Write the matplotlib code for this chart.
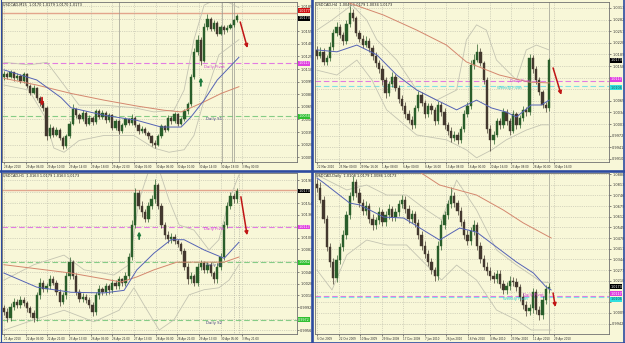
import numpy as np
import matplotlib
matplotlib.use("Agg")
import matplotlib.pyplot as plt
from matplotlib.lines import Line2D

# ---------------- data ----------------
# USDCAD M15 (top left)
tl_open0 = 1.0100
tl_close = [1.0104, 1.0101, 1.0106, 1.0099, 1.0102, 1.0096, 1.0104, 1.0090, 1.0082, 1.0088,
            1.0076, 1.0070, 1.0064, 1.0030, 1.0040, 1.0032, 1.0038, 1.0028, 1.0018, 1.0030,
            1.0045, 1.0062, 1.0055, 1.0050, 1.0058, 1.0045, 1.0052, 1.0047, 1.0060, 1.0053,
            1.0058, 1.0049, 1.0055, 1.0040, 1.0048, 1.0036, 1.0043, 1.0050, 1.0046, 1.0052,
            1.0044, 1.0036, 1.0039, 1.0034, 1.0030, 1.0022, 1.0020, 1.0030, 1.0042, 1.0038,
            1.0052, 1.0048, 1.0056, 1.0045, 1.0050, 1.0060, 1.0068, 1.0100, 1.0130, 1.0145,
            1.0120, 1.0160, 1.0170, 1.0158, 1.0165, 1.0152, 1.0160, 1.0156, 1.0159, 1.0162,
            1.0168, 1.0173]
tl_high = [1.0108, 1.0106, 1.0109, 1.0107, 1.0105, 1.0104, 1.0107, 1.0105, 1.0092, 1.0091,
           1.0089, 1.0078, 1.0072, 1.0066, 1.0045, 1.0042, 1.0041, 1.0040, 1.0030, 1.0033,
           1.0048, 1.0068, 1.0064, 1.0058, 1.0061, 1.0060, 1.0055, 1.0054, 1.0063, 1.0062,
           1.0061, 1.0060, 1.0058, 1.0057, 1.0051, 1.0049, 1.0046, 1.0053, 1.0052, 1.0056,
           1.0054, 1.0046, 1.0042, 1.0041, 1.0036, 1.0032, 1.0025, 1.0033, 1.0045, 1.0044,
           1.0055, 1.0054, 1.0059, 1.0058, 1.0053, 1.0063, 1.0071, 1.0104, 1.0135, 1.0150,
           1.0148, 1.0165, 1.0176, 1.0172, 1.0168, 1.0167, 1.0163, 1.0162, 1.0162, 1.0165,
           1.0170, 1.0176]
tl_low = [1.0097, 1.0098, 1.0099, 1.0096, 1.0097, 1.0093, 1.0094, 1.0087, 1.0079, 1.0080,
          1.0073, 1.0066, 1.0060, 1.0026, 1.0028, 1.0029, 1.0030, 1.0025, 1.0015, 1.0016,
          1.0028, 1.0043, 1.0052, 1.0046, 1.0048, 1.0042, 1.0043, 1.0044, 1.0045, 1.0050,
          1.0051, 1.0046, 1.0047, 1.0037, 1.0038, 1.0033, 1.0034, 1.0041, 1.0043, 1.0044,
          1.0041, 1.0033, 1.0034, 1.0031, 1.0027, 1.0019, 1.0016, 1.0018, 1.0028, 1.0035,
          1.0036, 1.0045, 1.0046, 1.0042, 1.0043, 1.0048, 1.0057, 1.0066, 1.0098, 1.0127,
          1.0115, 1.0118, 1.0157, 1.0155, 1.0155, 1.0149, 1.0150, 1.0152, 1.0154, 1.0158,
          1.0160, 1.0166]
tl_blue_x = [0, 10, 17.4, 20.4, 30.5, 40.5, 47.9, 54, 57, 61, 65, 71.6]
tl_blue_y = [1.0109, 1.0097, 1.0076, 1.0064, 1.0055, 1.0049, 1.0041, 1.0041, 1.0053, 1.0073, 1.0097, 1.0124]
tl_brown_x = [0, 10, 20.4, 30.5, 40.5, 48.8, 54, 57, 61, 66.2, 71.6]
tl_brown_y = [1.0099, 1.0091, 1.0081, 1.0073, 1.0066, 1.0061, 1.0059, 1.0064, 1.0071, 1.0081, 1.0089]
tl_bbu_x = [0, 7.6, 13.1, 18.3, 22.9, 30.5, 39.6, 45.7, 51.8, 54.9, 57.9, 61, 64, 68.6, 71.6]
tl_bbu_y = [1.0118, 1.0115, 1.0118, 1.0091, 1.0067, 1.0067, 1.0064, 1.0059, 1.0061, 1.0085,
            1.0145, 1.0186, 1.0192, 1.0189, 1.0183]
tl_bbl_x = [0, 7.6, 12.2, 15.2, 18.3, 22.9, 30.5, 39.6, 45.7, 50.3, 54.9, 57.9, 61, 65.5, 71.6]
tl_bbl_y = [1.0091, 1.0085, 1.0055, 1.0016, 1.0011, 1.0025, 1.0031, 1.0031, 1.0016, 1.0011,
            1.0014, 1.0031, 1.0073, 1.0127, 1.0145]
tl_ticks = [1.0185, 1.0170, 1.0155, 1.0140, 1.0125, 1.0110, 1.0095, 1.0080, 1.0065, 1.0050,
            1.0035, 1.0020, 1.0005]
tl_dates = ["28 Apr 2010", "29 Apr 06:00", "29 Apr 10:00", "29 Apr 14:00", "29 Apr 18:00",
            "29 Apr 22:00", "30 Apr 02:00", "30 Apr 06:00", "30 Apr 10:00", "30 Apr 14:00",
            "30 Apr 18:00", "3 May 00:00"]

# USDCAD H4 (top right)
tr_open0 = 1.0200
tr_close = [1.0185, 1.0195, 1.0170, 1.0180, 1.0210, 1.0245, 1.0262, 1.0240, 1.0225, 1.0270,
            1.0300, 1.0285, 1.0245, 1.0230, 1.0215, 1.0225, 1.0205, 1.0185, 1.0165, 1.0150,
            1.0120, 1.0085, 1.0110, 1.0130, 1.0100, 1.0070, 1.0050, 1.0030, 1.0015, 1.0000,
            1.0045, 1.0080, 1.0060, 1.0030, 1.0050, 1.0040, 1.0010, 1.0055, 1.0035, 1.0000,
            0.9985, 0.9965, 0.9975, 0.9960, 0.9990, 1.0030, 1.0050, 1.0160, 1.0175, 1.0195,
            1.0165, 1.0120, 0.9990, 0.9960, 0.9975, 1.0010, 1.0000, 1.0035, 1.0010, 0.9985,
            1.0030, 1.0000, 1.0020, 1.0040, 1.0035, 1.0180, 1.0150, 1.0120, 1.0090, 1.0055,
            1.0045, 1.0173]
tr_high = [1.0212, 1.0210, 1.0205, 1.0188, 1.0222, 1.0256, 1.0275, 1.0270, 1.0250, 1.0282,
           1.0318, 1.0310, 1.0292, 1.0255, 1.0240, 1.0238, 1.0232, 1.0215, 1.0195, 1.0175,
           1.0160, 1.0128, 1.0118, 1.0142, 1.0138, 1.0108, 1.0080, 1.0062, 1.0040, 1.0025,
           1.0055, 1.0092, 1.0088, 1.0068, 1.0060, 1.0058, 1.0048, 1.0065, 1.0062, 1.0045,
           1.0008, 0.9995, 0.9985, 0.9982, 0.9998, 1.0040, 1.0062, 1.0175, 1.0190, 1.0218,
           1.0205, 1.0172, 1.0128, 1.0000, 0.9985, 1.0020, 1.0018, 1.0045, 1.0042, 1.0018,
           1.0040, 1.0035, 1.0028, 1.0050, 1.0048, 1.0190, 1.0188, 1.0158, 1.0128, 1.0095,
           1.0062, 1.0180]
tr_low = [1.0178, 1.0180, 1.0160, 1.0162, 1.0172, 1.0202, 1.0238, 1.0232, 1.0215, 1.0218,
          1.0262, 1.0278, 1.0238, 1.0222, 1.0205, 1.0208, 1.0195, 1.0175, 1.0155, 1.0140,
          1.0108, 1.0072, 1.0078, 1.0102, 1.0092, 1.0060, 1.0040, 1.0018, 1.0005, 0.9990,
          0.9992, 1.0038, 1.0052, 1.0020, 1.0022, 1.0030, 1.0000, 1.0002, 1.0025, 0.9990,
          0.9975, 0.9955, 0.9958, 0.9950, 0.9952, 0.9982, 1.0022, 1.0042, 1.0150, 1.0168,
          1.0158, 1.0110, 0.9980, 0.9932, 0.9950, 0.9968, 0.9990, 0.9992, 1.0000, 0.9975,
          0.9978, 0.9990, 0.9992, 1.0012, 1.0025, 1.0028, 1.0140, 1.0110, 1.0080, 1.0045,
          1.0035, 1.0038]
tr_blue_x = [0, 6.1, 12.2, 18.3, 24.4, 30.5, 36.6, 42.7, 45.7, 48.8, 53.4, 57.9, 61, 65.5, 68.6, 71]
tr_blue_y = [1.0201, 1.0196, 1.0214, 1.0188, 1.0134, 1.0094, 1.0067, 1.0041, 1.0054, 1.0067,
             1.0046, 1.0035, 1.0022, 1.0054, 1.0054, 1.0067]
tr_brown_x = [10, 20.4, 30.5, 39.6, 45.7, 55.8, 64.9, 71]
tr_brown_y = [1.0326, 1.0294, 1.0254, 1.0214, 1.0169, 1.0134, 1.0115, 1.0113]
tr_bbu_x = [0, 4.6, 10.7, 15.2, 18.3, 24.4, 30.5, 36.6, 42.7, 45.7, 48.8, 51.8, 54.9, 61, 64, 67.1, 71]
tr_bbu_y = [1.0254, 1.0281, 1.0321, 1.0281, 1.0228, 1.0174, 1.0094, 1.0067, 1.0094, 1.0228,
            1.0268, 1.0254, 1.0174, 1.0121, 1.0201, 1.0214, 1.0201]
tr_bbl_x = [0, 6.1, 12.2, 16.8, 21.3, 30.5, 39.6, 45.7, 48.8, 53.4, 57.9, 64, 68.6, 71]
tr_bbl_y = [1.0147, 1.0134, 1.0174, 1.0121, 1.0041, 0.9974, 0.9961, 0.9934, 0.9913, 0.9934,
            0.9961, 0.9987, 1.0001, 1.0001]
tr_ticks = [1.0313, 1.0282, 1.0251, 1.0220, 1.0189, 1.0158, 1.0127, 1.0096, 1.0065, 1.0034,
            1.0003, 0.9972, 0.9941, 0.9910]
tr_dates = ["22 Mar 2010", "25 Mar 00:00", "29 Mar 16:00", "1 Apr 08:00", "6 Apr 00:00",
            "8 Apr 16:00", "13 Apr 08:00", "16 Apr 00:00", "20 Apr 16:00", "23 Apr 08:00",
            "28 Apr 00:00", "30 Apr 16:00"]

# USDCAD H1 (bottom left)
bl_open0 = 0.9990
bl_close = [0.9985, 0.9975, 0.9992, 1.0000, 0.9995, 1.0003, 0.9998, 0.9990, 0.9982, 0.9975,
            1.0010, 1.0030, 1.0020, 1.0025, 1.0035, 1.0030, 1.0015, 1.0000, 1.0010, 1.0040,
            1.0062, 1.0040, 1.0015, 1.0005, 1.0008, 1.0003, 0.9995, 0.9985, 1.0010, 1.0020,
            1.0015, 1.0025, 1.0018, 1.0030, 1.0025, 1.0035, 1.0030, 1.0040, 1.0070, 1.0120,
            1.0170, 1.0150, 1.0140, 1.0130, 1.0150, 1.0160, 1.0182, 1.0150, 1.0120, 1.0105,
            1.0098, 1.0102, 1.0095, 1.0090, 1.0080, 1.0055, 1.0035, 1.0040, 1.0030, 1.0055,
            1.0060, 1.0050, 1.0058, 1.0045, 1.0035, 1.0055, 1.0070, 1.0120, 1.0150, 1.0165,
            1.0160, 1.0173]
bl_high = [0.9995, 0.9990, 0.9998, 1.0006, 1.0005, 1.0009, 1.0008, 1.0002, 0.9994, 0.9988,
           1.0016, 1.0037, 1.0034, 1.0030, 1.0042, 1.0040, 1.0034, 1.0020, 1.0016, 1.0046,
           1.0070, 1.0066, 1.0045, 1.0020, 1.0014, 1.0012, 1.0008, 1.0000, 1.0015, 1.0026,
           1.0024, 1.0030, 1.0028, 1.0036, 1.0034, 1.0040, 1.0038, 1.0046, 1.0076, 1.0128,
           1.0178, 1.0175, 1.0158, 1.0145, 1.0156, 1.0166, 1.0192, 1.0186, 1.0155, 1.0125,
           1.0110, 1.0108, 1.0106, 1.0098, 1.0094, 1.0084, 1.0060, 1.0046, 1.0044, 1.0060,
           1.0066, 1.0064, 1.0063, 1.0062, 1.0048, 1.0060, 1.0076, 1.0126, 1.0156, 1.0172,
           1.0170, 1.0178]
bl_low = [0.9980, 0.9968, 0.9970, 0.9988, 0.9990, 0.9990, 0.9994, 0.9985, 0.9977, 0.9968,
          0.9970, 1.0005, 1.0015, 1.0016, 1.0020, 1.0026, 1.0010, 0.9994, 0.9996, 1.0005,
          1.0035, 1.0035, 1.0010, 1.0000, 1.0000, 0.9998, 0.9990, 0.9978, 0.9980, 1.0004,
          1.0010, 1.0010, 1.0013, 1.0014, 1.0020, 1.0020, 1.0025, 1.0025, 1.0035, 1.0065,
          1.0115, 1.0145, 1.0132, 1.0125, 1.0125, 1.0145, 1.0155, 1.0145, 1.0115, 1.0098,
          1.0092, 1.0092, 1.0090, 1.0085, 1.0075, 1.0050, 1.0028, 1.0030, 1.0025, 1.0025,
          1.0050, 1.0045, 1.0045, 1.0040, 1.0030, 1.0030, 1.0050, 1.0065, 1.0115, 1.0145,
          1.0155, 1.0155]
bl_blue_x = [0, 10, 20.4, 30.5, 36.6, 40.5, 45.7, 50.9, 54.9, 61, 67.1, 71.6]
bl_blue_y = [1.0045, 1.0023, 1.0015, 1.0014, 1.0018, 1.0050, 1.0076, 1.0097, 1.0097, 1.0081, 1.0068, 1.0093]
bl_brown_x = [0, 20.4, 35.7, 40.5, 45.7, 52.7, 61, 67.1, 71.6]
bl_brown_y = [1.0058, 1.0045, 1.0031, 1.0039, 1.0050, 1.0062, 1.0062, 1.0062, 1.0070]
bl_bbu_x = [0, 9.1, 18.3, 24.4, 33.5, 38.1, 41.2, 44.2, 47.3, 50.3, 53.4, 57.9, 62.5, 65.5, 68.6, 71.6]
bl_bbu_y = [1.0034, 1.0058, 1.0073, 1.0050, 1.0042, 1.0058, 1.0159, 1.0206, 1.0206, 1.0159,
            1.0120, 1.0112, 1.0081, 1.0097, 1.0159, 1.0198]
bl_bbl_x = [0, 9.1, 18.3, 27.4, 35.1, 39.6, 42.7, 47.3, 51.8, 56.4, 61, 65.5, 68.6, 71.6]
bl_bbl_y = [0.9956, 0.9972, 0.9987, 0.9969, 0.9987, 1.0022, 0.9995, 0.9956, 0.9972, 1.0011,
            1.0019, 1.0022, 1.0034, 1.0058]
bl_ticks = [1.0190, 1.0172, 1.0154, 1.0136, 1.0118, 1.0100, 1.0082, 1.0064, 1.0046, 1.0028,
            1.0010, 0.9992, 0.9974, 0.9956]
bl_dates = ["21 Apr 2010", "22 Apr 05:00", "22 Apr 21:00", "23 Apr 13:00", "26 Apr 05:00",
            "26 Apr 21:00", "27 Apr 13:00", "28 Apr 05:00", "28 Apr 21:00", "29 Apr 13:00",
            "30 Apr 05:00", "3 May 21:00"]

# USDCAD Daily (bottom right)
br_open0 = 1.0820
br_close = [1.0790, 1.0720, 1.0600, 1.0420, 1.0330, 1.0230, 1.0340, 1.0420, 1.0500, 1.0620,
            1.0740, 1.0830, 1.0760, 1.0700, 1.0650, 1.0680, 1.0600, 1.0560, 1.0590, 1.0640,
            1.0580, 1.0620, 1.0660, 1.0610, 1.0640, 1.0690, 1.0720, 1.0660, 1.0600, 1.0630,
            1.0570, 1.0500, 1.0430, 1.0380, 1.0330, 1.0280, 1.0240, 1.0430, 1.0560, 1.0620,
            1.0690, 1.0740, 1.0700, 1.0650, 1.0580, 1.0500, 1.0460, 1.0520, 1.0560, 1.0430,
            1.0350, 1.0300, 1.0270, 1.0240, 1.0220, 1.0250, 1.0190, 1.0150, 1.0180, 1.0210,
            1.0200, 1.0170, 1.0110, 1.0060, 1.0020, 1.0040, 1.0140, 1.0030, 0.9995, 1.0090,
            1.0160, 1.0173]
br_high = [1.0850, 1.0830, 1.0745, 1.0625, 1.0450, 1.0355, 1.0370, 1.0450, 1.0530, 1.0650,
           1.0770, 1.0870, 1.0850, 1.0790, 1.0725, 1.0710, 1.0700, 1.0630, 1.0610, 1.0670,
           1.0660, 1.0650, 1.0690, 1.0680, 1.0665, 1.0720, 1.0750, 1.0745, 1.0685, 1.0655,
           1.0650, 1.0600, 1.0525, 1.0460, 1.0405, 1.0355, 1.0300, 1.0460, 1.0590, 1.0650,
           1.0720, 1.0800, 1.0770, 1.0720, 1.0670, 1.0600, 1.0530, 1.0550, 1.0590, 1.0580,
           1.0455, 1.0375, 1.0330, 1.0300, 1.0265, 1.0275, 1.0280, 1.0215, 1.0205, 1.0240,
           1.0235, 1.0225, 1.0190, 1.0135, 1.0085, 1.0065, 1.0165, 1.0160, 1.0055, 1.0115,
           1.0185, 1.0195]
br_low = [1.0770, 1.0700, 1.0575, 1.0400, 1.0300, 1.0190, 1.0205, 1.0315, 1.0395, 1.0475,
          1.0595, 1.0715, 1.0735, 1.0675, 1.0625, 1.0625, 1.0575, 1.0530, 1.0535, 1.0565,
          1.0555, 1.0555, 1.0595, 1.0585, 1.0585, 1.0615, 1.0665, 1.0635, 1.0575, 1.0575,
          1.0545, 1.0475, 1.0405, 1.0355, 1.0305, 1.0255, 1.0210, 1.0215, 1.0405, 1.0535,
          1.0595, 1.0665, 1.0675, 1.0625, 1.0555, 1.0475, 1.0435, 1.0435, 1.0495, 1.0405,
          1.0325, 1.0275, 1.0245, 1.0215, 1.0195, 1.0195, 1.0165, 1.0125, 1.0125, 1.0155,
          1.0175, 1.0145, 1.0085, 1.0035, 0.9990, 0.9995, 1.0010, 1.0005, 0.9965, 0.9970,
          1.0065, 1.0135]
br_blue_x = [0, 2.1, 10, 13.1, 20.4, 26.5, 33.5, 37.5, 43.6, 48.8, 54.9, 61, 66.2, 70.1, 71.6]
br_blue_y = [1.0855, 1.0824, 1.0698, 1.0686, 1.0610, 1.0604, 1.0516, 1.0466, 1.0541, 1.0516,
             1.0422, 1.0328, 1.0259, 1.0171, 1.0153]
br_brown_x = [30.5, 37.5, 48.8, 57, 63.1, 71.6]
br_brown_y = [1.0905, 1.0811, 1.0748, 1.0654, 1.0573, 1.0479]
br_bbu_x = [0, 9.1, 15.2, 21.3, 27.4, 33.5, 38.1, 42.7, 48.8, 54.9, 61, 65.5, 68.6, 71.6]
br_bbu_y = [1.0874, 1.0780, 1.0811, 1.0748, 1.0748, 1.0654, 1.0592, 1.0842, 1.0654, 1.0404,
            1.0309, 1.0247, 1.0203, 1.0197]
br_bbl_x = [0, 4.6, 9.1, 15.2, 21.3, 27.4, 33.5, 38.1, 42.7, 48.8, 54.9, 61, 65.5, 71.6]
br_bbl_y = [1.0278, 1.0153, 1.0372, 1.0466, 1.0435, 1.0435, 1.0309, 1.0215, 1.0309, 1.0215,
            1.0027, 0.9965, 0.9902, 0.9902]
br_ticks = [1.0880, 1.0813, 1.0746, 1.0679, 1.0612, 1.0545, 1.0478, 1.0411, 1.0344, 1.0277,
            1.0210, 1.0143, 1.0076, 1.0009, 0.9942]
br_dates = ["6 Oct 2009", "22 Oct 2009", "10 Nov 2009", "29 Nov 2009", "17 Dec 2009",
            "7 Jan 2010", "26 Jan 2010", "16 Feb 2010", "4 Mar 2010", "23 Mar 2010",
            "11 Apr 2010", "29 Apr 2010"]

# ---------------- styling ----------------
W, H = 625, 343
BG = "#F8F7D8"
NAVY = "#2D4BA0"
BULL = "#2A5E2A"
BEAR = "#43382E"
BLUE = "#5563B5"
BROWN = "#D4876E"
BAND = "#C4C4B2"
MAGENTA = "#E27BE2"
CYAN = "#7FE3E3"
GREEN = "#86CC86"
RED = "#C01515"

fig = plt.figure(figsize=(W / 100, H / 100), dpi=100, facecolor=BG)


def px_rect(x0, y0, x1, y1):
    return [x0 / W, 1 - y1 / H, (x1 - x0) / W, (y1 - y0) / H]


def panel(rect, ylim, title, open0, close, high, low, ticks, dates,
          blue, brown, bbu, bbl, skip=()):
    ax = fig.add_axes(px_rect(*rect))
    ax.set_facecolor(BG)
    c = np.array(close)
    o = np.concatenate([[open0], c[:-1]])
    idx = np.arange(len(c))
    cols = np.where(c >= o, BULL, BEAR)
    ax.vlines(idx, low, high, colors=cols, lw=0.5, zorder=3)
    ax.bar(idx, np.abs(c - o), bottom=np.minimum(o, c), width=0.7,
           color=cols, edgecolor=cols, lw=0.3, zorder=3)
    ax.plot(*bbu, color=BAND, lw=0.6, zorder=2)
    ax.plot(*bbl, color=BAND, lw=0.6, zorder=2)
    ax.plot(*brown, color=BROWN, lw=0.7, zorder=4)
    ax.plot(*blue, color=BLUE, lw=0.7, zorder=4)

    ax.set_xlim(-0.6, 89.3)
    ax.set_ylim(*ylim)
    ax.yaxis.tick_right()
    ax.set_yticks(ticks)
    # labels hidden behind a price box are left blank, as the box covers them
    ax.set_yticklabels(["" if t in skip else f"{t:.4f}" for t in ticks])
    ax.set_xticks(np.arange(len(dates)) * 6.6)
    ax.set_xticklabels(dates)
    for lab in ax.get_xticklabels():
        lab.set_ha("left")
    ax.tick_params(axis="y", labelsize=2.5, length=1.5, width=0.4, pad=0.8, colors="#303030")
    ax.tick_params(axis="x", labelsize=1.95, length=1.5, width=0.4, pad=0.8, colors="#303030")
    ax.grid(True, ls=":", color="#B5B5A5", lw=0.5, zorder=0)
    for s in ax.spines.values():
        s.set_color("#707070")
        s.set_linewidth(0.6)
    ax.text(0.004, 0.993, title, transform=ax.transAxes, fontsize=2.5,
            va="top", ha="left", color="#202020")
    return ax


def hline(ax, y, color, dashed=True, lw=0.8):
    ax.axhline(y, color=color, lw=lw, ls=(0, (5, 2.5)) if dashed else "-", zorder=1)


def price_box(ax, y, fc, tc="white", va="center"):
    ax.text(1.004, y, f"{y:.4f}", transform=ax.get_yaxis_transform(), fontsize=2.4,
            color=tc, va=va, ha="left", clip_on=False, zorder=6,
            bbox=dict(boxstyle="square,pad=0.12", fc=fc, ec="none"))


def arrow(ax, start, end, color=RED, lw=1.0, ms=5):
    ax.annotate("", xy=end, xytext=start,
                arrowprops=dict(arrowstyle="-|>", color=color, lw=lw,
                                mutation_scale=ms, shrinkA=0, shrinkB=0), zorder=7)


def label(ax, x, y, s, color):
    ax.text(x, y, s, fontsize=2.8, color=color, va="center", ha="left", zorder=5)


# ---- top left: M15 ----
ax = panel((2, 2, 297, 162), (0.99994, 1.01898), "USDCAD,M15  1.0170 1.0179 1.0170 1.0173",
           tl_open0, tl_close, tl_high, tl_low, tl_ticks, tl_dates,
           (tl_blue_x, tl_blue_y), (tl_brown_x, tl_brown_y),
           (tl_bbu_x, tl_bbu_y), (tl_bbl_x, tl_bbl_y),
           skip=(1.0170,))
hline(ax, 1.0177, "#E3A58C", dashed=False, lw=1.0)
hline(ax, 1.0117, MAGENTA)
hline(ax, 1.0054, GREEN)
for xv in [35, 66.5, 69.5, 70.1]:
    ax.axvline(xv, color="#9A9A90", lw=0.5, zorder=1)
label(ax, 61, 1.0112, "Daily Pivot", "#D040D0")
label(ax, 61.5, 1.0050, "Daily S1", "#404080")
arrow(ax, (11.6, 1.0076), (11.6, 1.0066), lw=1.3, ms=4)
arrow(ax, (60, 1.0090), (60, 1.0100), color="#1E7A3C", lw=1.3, ms=4)
arrow(ax, (72, 1.0166), (74.2, 1.0135), lw=1.1, ms=5)
price_box(ax, 1.0177, "#D01010", va="bottom")
price_box(ax, 1.0173, "#000000", va="top")
price_box(ax, 1.0117, "#E040E0")
price_box(ax, 1.0054, "#30C030")

# ---- top right: H4 ----
ax = panel((315, 2, 609, 162), (0.99018, 1.0329), "USDCAD,H4  1.0046 1.0179 1.0034 1.0173",
           tr_open0, tr_close, tr_high, tr_low, tr_ticks, tr_dates,
           (tr_blue_x, tr_blue_y), (tr_brown_x, tr_brown_y),
           (tr_bbu_x, tr_bbu_y), (tr_bbl_x, tr_bbl_y),
           skip=(1.0127, 1.0096))
hline(ax, 1.0117, MAGENTA)
hline(ax, 1.0106, CYAN)
ax.axvline(71, color="#9A9A90", lw=0.5, zorder=1)
label(ax, 59, 1.0119, "Daily Pivot", "#D040D0")
label(ax, 55, 1.0100, "Weekly Pivot", "#30C8C8")
arrow(ax, (72.2, 1.0153), (74.7, 1.0081), lw=1.1, ms=5)
price_box(ax, 1.0173, "#000000")
price_box(ax, 1.0117, "#E040E0", va="bottom")
price_box(ax, 1.0106, "#30E0E0", tc="#205050", va="top")

# ---- bottom left: H1 ----
ax = panel((2, 173, 297, 334), (0.99499, 1.02011), "USDCAD,H1  1.0163 1.0179 1.0163 1.0173",
           bl_open0, bl_close, bl_high, bl_low, bl_ticks, bl_dates,
           (bl_blue_x, bl_blue_y), (bl_brown_x, bl_brown_y),
           (bl_bbu_x, bl_bbu_y), (bl_bbl_x, bl_bbl_y),
           skip=(1.0172, 1.0118, 1.0064, 0.9974))
hline(ax, 1.0175, "#E3A58C", dashed=False, lw=1.0)
hline(ax, 1.0117, MAGENTA)
hline(ax, 1.0062, GREEN)
hline(ax, 0.9972, GREEN)
for xv in [70, 71.5]:
    ax.axvline(xv, color="#9A9A90", lw=0.5, ls=":", zorder=1)
label(ax, 61, 1.0113, "Daily Pivot", "#D040D0")
label(ax, 61.5, 1.0058, "Daily S1", "#404080")
label(ax, 61.5, 0.9967, "Daily S2", "#404080")
arrow(ax, (41.2, 1.0098), (41.2, 1.0110), color="#1E7A3C", lw=1.3, ms=4)
arrow(ax, (72.2, 1.0164), (74.1, 1.0104), lw=1.1, ms=5)
price_box(ax, 1.0173, "#000000")
price_box(ax, 1.0117, "#E040E0")
price_box(ax, 1.0062, "#30C030")
price_box(ax, 0.9972, "#30C030")

# ---- bottom right: Daily ----
ax = panel((315, 173, 609, 334), (0.98768, 1.08863), "USDCAD,Daily  1.0108 1.0179 1.0086 1.0173",
           br_open0, br_close, br_high, br_low, br_ticks, br_dates,
           (br_blue_x, br_blue_y), (br_brown_x, br_brown_y),
           (br_bbu_x, br_bbu_y), (br_bbl_x, br_bbl_y),
           skip=(1.0143, 1.0076))
hline(ax, 1.0117, MAGENTA)
hline(ax, 1.0106, CYAN)
ax.axvline(71, color="#9A9A90", lw=0.5, zorder=1)
label(ax, 57, 1.0098, "Weekly Pivot", "#30C8C8")
label(ax, 63, 1.0122, "Daily Pivot", "#D040D0")
arrow(ax, (72.2, 1.0134), (72.9, 1.0046), lw=1.1, ms=5)
price_box(ax, 1.0173, "#000000")
price_box(ax, 1.0117, "#E040E0", va="bottom")
price_box(ax, 1.0106, "#30E0E0", tc="#205050", va="top")

# ---- window frames ----
fig.add_artist(Line2D([0, 1], [1 - 170.5 / H] * 2, transform=fig.transFigure, color=NAVY, lw=1.9))
fig.add_artist(Line2D([312 / W] * 2, [0, 1], transform=fig.transFigure, color=NAVY, lw=1.9))
fig.add_artist(Line2D([624 / W] * 2, [0, 1], transform=fig.transFigure, color=NAVY, lw=1.2))
fig.add_artist(Line2D([0, 1], [0.5 / H] * 2, transform=fig.transFigure, color=NAVY, lw=1.2))
fig.add_artist(Line2D([0.5 / W] * 2, [0, 1], transform=fig.transFigure, color=NAVY, lw=0.8))

fig.savefig("out.png", dpi=100, facecolor=BG)
